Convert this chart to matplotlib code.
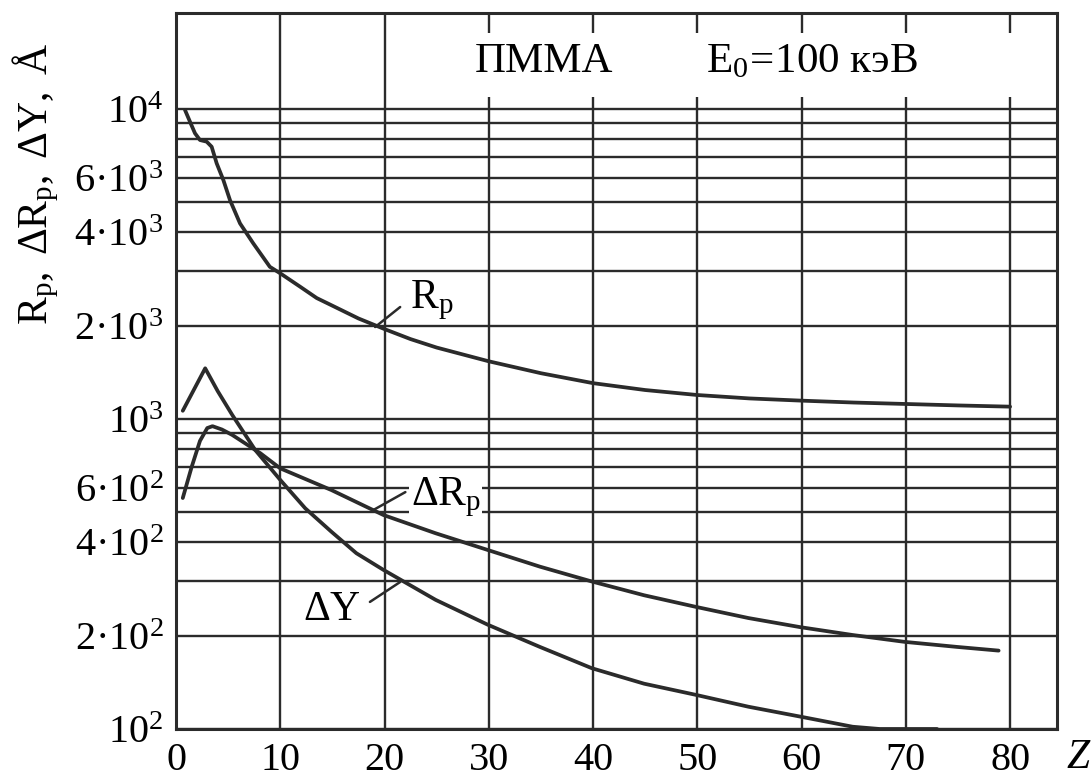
import matplotlib
matplotlib.use("Agg")
import matplotlib.pyplot as plt
from matplotlib.ticker import FixedLocator, NullFormatter
from matplotlib.patches import Rectangle

plt.rcParams['font.family'] = ['Liberation Serif', 'DejaVu Serif']
plt.rcParams['mathtext.fontset'] = 'custom'
plt.rcParams['mathtext.rm'] = 'Liberation Serif'
plt.rcParams['mathtext.it'] = 'Liberation Serif:italic'
plt.rcParams['mathtext.bf'] = 'Liberation Serif:bold'

# ---- data ----
rp_z = [0.86, 1.34, 1.82, 2.3, 2.94, 3.42, 3.9, 4.54, 5.18, 6.14, 7.4, 9.0, 10.0, 11.9, 13.5, 15, 17.5,
        20, 22.5, 25, 30, 35, 40, 45, 50, 55, 60, 65, 70, 75, 80]
rp_val = [9930, 9100, 8350, 7940, 7845, 7555, 6680, 5900, 5080, 4275, 3690, 3097, 2950, 2672, 2455, 2320, 2110,
          1950, 1810, 1700, 1535, 1405, 1305, 1240, 1195, 1165, 1146, 1130, 1118, 1106, 1096]

drp_z = [0.65, 1.5, 2.3, 3.0, 3.5, 4.4, 5.4, 8.1, 10, 14.9, 19.9, 24.9, 29.9, 34.9, 39.9, 44.9, 49.8,
         54.9, 59.9, 64.9, 69.9, 74.9, 78.9]
drp_val = [556, 700, 850, 935, 948, 925, 888, 775, 693, 590, 490, 428, 378, 334, 299, 270, 248,
           228, 213, 201, 191, 184, 179]

dy_z = [0.65, 1.7, 2.8, 4.0, 5.4, 7.6, 10, 12.4, 14.9, 17.3, 19.9, 24.9, 29.9, 34.9, 39.9, 44.9, 49.8,
        54.9, 59.9, 64.9, 67.5, 73]
dy_val = [1063, 1240, 1457, 1230, 1030, 794, 636, 515, 433, 369, 326, 261, 217, 184, 157, 140, 129,
          118, 109.6, 101.7, 100, 100]

x_ticks = [0, 10, 20, 30, 40, 50, 60, 70, 80]
y_ticks = [100, 200, 400, 600, 1000, 2000, 4000, 6000, 10000]
y_tick_labels = [r'$10^{2}$', r'$2{·}10^{2}$', r'$4{·}10^{2}$', r'$6{·}10^{2}$', r'$10^{3}$',
                 r'$2{·}10^{3}$', r'$4{·}10^{3}$', r'$6{·}10^{3}$', r'$10^{4}$']
y_grid = [100, 200, 300, 400, 500, 600, 700, 800, 900,
          1000, 2000, 3000, 4000, 5000, 6000, 7000, 8000, 9000, 10000]

INK = '#2b2b2b'

fig = plt.figure(figsize=(10.91, 7.78), dpi=100)
ax = fig.add_axes([176 / 1091, 1 - 729 / 778, (1057 - 176) / 1091, (729 - 13) / 778])

ax.set_yscale('log')
ax.set_xlim(0, 84.5)
ax.set_ylim(100, 20400)

ax.set_xticks(x_ticks)
ax.set_xticklabels([str(v) for v in x_ticks])
ax.yaxis.set_major_locator(FixedLocator(y_ticks))
ax.set_yticklabels(y_tick_labels)
ax.yaxis.set_minor_locator(FixedLocator(y_grid))
ax.yaxis.set_minor_formatter(NullFormatter())

ax.tick_params(axis='both', which='both', length=0, labelsize=29, colors='black')
ax.tick_params(axis='x', pad=9)
ax.tick_params(axis='y', pad=9)

ax.set_axisbelow(True)
ax.grid(True, which='both', axis='y', color=INK, linewidth=1.7)
ax.grid(True, which='major', axis='x', color=INK, linewidth=1.7)
# vertical grid stops above 10^4 only inside the caption area
ax.add_patch(Rectangle((0.30, 0.883), 0.69, 0.089, transform=ax.transAxes,
                       facecolor='white', edgecolor='none', zorder=1))

for s in ax.spines.values():
    s.set_linewidth(2.2)
    s.set_color(INK)

lw = 2.7
for zz, vv in ((rp_z, rp_val), (drp_z, drp_val), (dy_z, dy_val)):
    ax.plot(zz, vv, color=INK, lw=lw, zorder=3, solid_capstyle='round', solid_joinstyle='round')

lead = dict(arrowstyle='-', color=INK, lw=1.8, shrinkA=0, shrinkB=0)
ax.annotate('', xy=(19.1, 1980), xytext=(21.5, 2297), arrowprops=lead, zorder=4)
ax.annotate('', xy=(18.9, 508), xytext=(22.0, 581), arrowprops=lead, zorder=4)
ax.annotate('', xy=(21.5, 298), xytext=(18.6, 257), arrowprops=lead, zorder=4)

ax.text(22.4, 2420, r'$\mathrm{R_p}$', fontsize=30, ha='left', va='center', zorder=5)
ax.text(22.5, 560, r'$\mathrm{ΔR_p}$', fontsize=30, ha='left', va='center', zorder=5,
        bbox=dict(facecolor='white', edgecolor='none', pad=1))
ax.text(17.7, 242, r'$\mathrm{ΔY}$', fontsize=30, ha='right', va='center', zorder=5)

ax.text((475 - 176) / 881, (729 - 62) / 716, 'ПММА', transform=ax.transAxes,
        fontsize=31, ha='left', va='center', zorder=5)
ax.text((706 - 176) / 881, (729 - 62) / 716, r'$\mathrm{E_0\!=\!100\ кэВ}$', transform=ax.transAxes,
        fontsize=31, ha='left', va='center', zorder=5)

fig.text(36 / 1091, 1 - 184 / 778, r'$\mathrm{R_p,\ ΔR_p,\ ΔY,\ Å}$', rotation=90,
         fontsize=30, ha='center', va='center')
fig.text(1078 / 1091, 1 - 758 / 778, 'Z', fontsize=30, style='italic', ha='center', va='center')

fig.savefig('out.png', dpi=100, facecolor='white')
